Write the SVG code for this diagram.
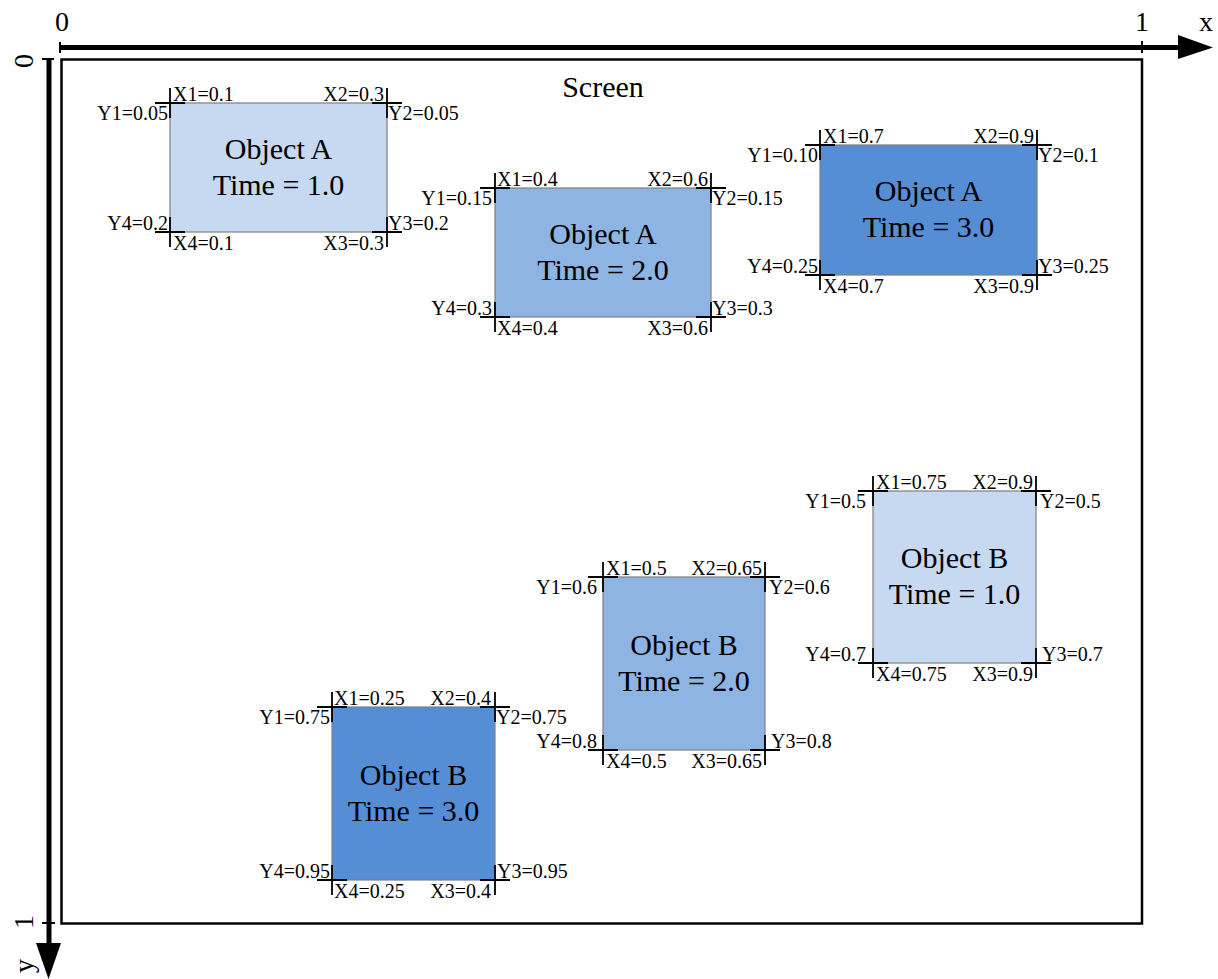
<svg xmlns="http://www.w3.org/2000/svg" width="1218" height="979" viewBox="0 0 1218 979">
  <style>
    text { font-family: "Liberation Serif", "Times New Roman", serif; fill: #000; }
    .axis-label { font-size: 28px; }
    .title { font-size: 30px; }
    .name { font-size: 30px; text-anchor: middle; }
    .coord { font-size: 20px; }
    .end { text-anchor: end; }
    .axis { stroke: #000; stroke-width: 5; fill: none; }
    .tick { stroke: #000; stroke-width: 2; }
    .frame { fill: none; stroke: #000; stroke-width: 2.5; }
    .box { stroke: #7f7f7f; stroke-width: 1.2; }
    .t1 { fill: #c6d9f1; }
    .t2 { fill: #8eb4e3; }
    .t3 { fill: #558ed5; }
    .cross { stroke: #000; stroke-width: 1.8; fill: none; }
  </style>

  <!-- coordinate axes -->
  <g id="axes">
    <line class="axis" x1="60" y1="47.5" x2="1182" y2="47.5"/>
    <polygon points="1178,35 1178,59 1213,47.5" fill="#000"/>
    <line class="tick" x1="60" y1="42" x2="60" y2="53"/>
    <line class="tick" x1="1142" y1="41" x2="1142" y2="53"/>
    <text class="axis-label" x="62" y="31" text-anchor="middle">0</text>
    <text class="axis-label" x="1142" y="31" text-anchor="middle">1</text>
    <text class="axis-label" x="1206" y="31" text-anchor="middle">x</text>

    <line class="axis" x1="49" y1="59" x2="49" y2="947"/>
    <polygon points="36,943 61,943 48.5,979" fill="#000"/>
    <line class="tick" x1="42" y1="59" x2="54" y2="59"/>
    <line class="tick" x1="42" y1="923" x2="55" y2="923"/>
    <text class="axis-label" transform="translate(33,61) rotate(-90)" text-anchor="middle">0</text>
    <text class="axis-label" transform="translate(33,922) rotate(-90)" text-anchor="middle">1</text>
    <text class="axis-label" transform="translate(33,966) rotate(-90)" text-anchor="middle">y</text>
  </g>

  <!-- screen area -->
  <g id="screen">
    <rect class="frame" x="61.5" y="59.5" width="1080.5" height="864"/>
    <text class="title" x="603" y="97" text-anchor="middle">Screen</text>
  </g>

  <!-- Object A, time 1.0 -->
  <g id="objA-t1">
    <rect class="box t1" x="170" y="103" width="217" height="129"/>
    <path class="cross" d="M155,103H185M170,88V118M372,103H402M387,88V118M155,232H185M170,217V247M372,232H402M387,217V247"/>
    <text class="name" x="278.5" y="158.5">Object A</text>
    <text class="name" x="278.5" y="194.5">Time = 1.0</text>
    <text class="coord" x="173" y="101">X1=0.1</text>
    <text class="coord end" x="384" y="101">X2=0.3</text>
    <text class="coord end" x="168" y="120">Y1=0.05</text>
    <text class="coord" x="388" y="120">Y2=0.05</text>
    <text class="coord end" x="168" y="230">Y4=0.2</text>
    <text class="coord" x="388" y="230">Y3=0.2</text>
    <text class="coord" x="173" y="250">X4=0.1</text>
    <text class="coord end" x="384" y="250">X3=0.3</text>
  </g>

  <!-- Object A, time 2.0 -->
  <g id="objA-t2">
    <rect class="box t2" x="495" y="188" width="216" height="129"/>
    <path class="cross" d="M480,188H510M495,173V203M696,188H726M711,173V203M480,317H510M495,302V332M696,317H726M711,302V332"/>
    <text class="name" x="603" y="243.5">Object A</text>
    <text class="name" x="603" y="279.5">Time = 2.0</text>
    <text class="coord" x="497" y="186">X1=0.4</text>
    <text class="coord end" x="708" y="186">X2=0.6</text>
    <text class="coord end" x="492" y="205">Y1=0.15</text>
    <text class="coord" x="712" y="205">Y2=0.15</text>
    <text class="coord end" x="492" y="315">Y4=0.3</text>
    <text class="coord" x="712" y="315">Y3=0.3</text>
    <text class="coord" x="497" y="335">X4=0.4</text>
    <text class="coord end" x="708" y="335">X3=0.6</text>
  </g>

  <!-- Object A, time 3.0 -->
  <g id="objA-t3">
    <rect class="box t3" x="820" y="145" width="217" height="130"/>
    <path class="cross" d="M805,145H835M820,130V160M1022,145H1052M1037,130V160M805,275H835M820,260V290M1022,275H1052M1037,260V290"/>
    <text class="name" x="928.5" y="201">Object A</text>
    <text class="name" x="928.5" y="237">Time = 3.0</text>
    <text class="coord" x="823" y="143">X1=0.7</text>
    <text class="coord end" x="1034" y="143">X2=0.9</text>
    <text class="coord end" x="818" y="162">Y1=0.10</text>
    <text class="coord" x="1038" y="162">Y2=0.1</text>
    <text class="coord end" x="818" y="273">Y4=0.25</text>
    <text class="coord" x="1038" y="273">Y3=0.25</text>
    <text class="coord" x="823" y="293">X4=0.7</text>
    <text class="coord end" x="1034" y="293">X3=0.9</text>
  </g>

  <!-- Object B, time 1.0 -->
  <g id="objB-t1">
    <rect class="box t1" x="873" y="491" width="163" height="172"/>
    <path class="cross" d="M858,491H888M873,476V506M1021,491H1051M1036,476V506M858,663H888M873,648V678M1021,663H1051M1036,648V678"/>
    <text class="name" x="954.5" y="568">Object B</text>
    <text class="name" x="954.5" y="604">Time = 1.0</text>
    <text class="coord" x="876" y="489">X1=0.75</text>
    <text class="coord end" x="1033" y="489">X2=0.9</text>
    <text class="coord end" x="866" y="508">Y1=0.5</text>
    <text class="coord" x="1040" y="508">Y2=0.5</text>
    <text class="coord end" x="866" y="661">Y4=0.7</text>
    <text class="coord" x="1042" y="661">Y3=0.7</text>
    <text class="coord" x="876" y="681">X4=0.75</text>
    <text class="coord end" x="1033" y="681">X3=0.9</text>
  </g>

  <!-- Object B, time 2.0 -->
  <g id="objB-t2">
    <rect class="box t2" x="603" y="577" width="162" height="173"/>
    <path class="cross" d="M588,577H618M603,562V592M750,577H780M765,562V592M588,750H618M603,735V765M750,750H780M765,735V765"/>
    <text class="name" x="684" y="654.5">Object B</text>
    <text class="name" x="684" y="690.5">Time = 2.0</text>
    <text class="coord" x="606" y="575">X1=0.5</text>
    <text class="coord end" x="762" y="575">X2=0.65</text>
    <text class="coord end" x="597" y="594">Y1=0.6</text>
    <text class="coord" x="769" y="594">Y2=0.6</text>
    <text class="coord end" x="597" y="748">Y4=0.8</text>
    <text class="coord" x="771" y="748">Y3=0.8</text>
    <text class="coord" x="606" y="768">X4=0.5</text>
    <text class="coord end" x="762" y="768">X3=0.65</text>
  </g>

  <!-- Object B, time 3.0 -->
  <g id="objB-t3">
    <rect class="box t3" x="332" y="707" width="163" height="173"/>
    <path class="cross" d="M317,707H347M332,692V722M480,707H510M495,692V722M317,880H347M332,865V895M480,880H510M495,865V895"/>
    <text class="name" x="413.5" y="784.5">Object B</text>
    <text class="name" x="413.5" y="820.5">Time = 3.0</text>
    <text class="coord" x="334" y="705">X1=0.25</text>
    <text class="coord end" x="491" y="705">X2=0.4</text>
    <text class="coord end" x="330" y="724">Y1=0.75</text>
    <text class="coord" x="496" y="724">Y2=0.75</text>
    <text class="coord end" x="330" y="878">Y4=0.95</text>
    <text class="coord" x="497" y="878">Y3=0.95</text>
    <text class="coord" x="334" y="898">X4=0.25</text>
    <text class="coord end" x="491" y="898">X3=0.4</text>
  </g>
</svg>
